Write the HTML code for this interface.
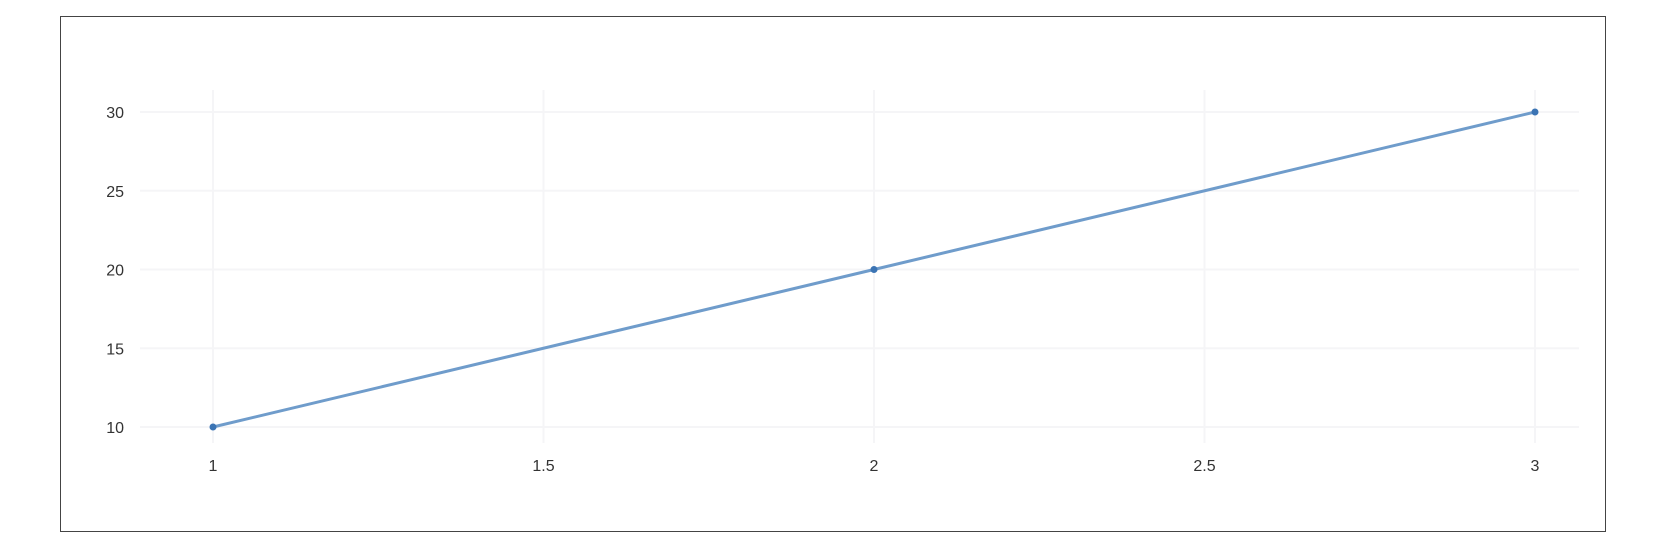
<!DOCTYPE html>
<html><head><meta charset="utf-8"><style>
html,body{margin:0;padding:0;background:#fff;width:1676px;height:550px;overflow:hidden}
#frame{position:absolute;left:60px;top:16px;width:1544px;height:514px;border:1.5px solid #444;box-sizing:content-box}
svg{position:absolute;left:0;top:0}
text{font-family:"Liberation Sans",sans-serif;font-size:16px;fill:#333}
</style></head><body>
<div id="frame"></div>
<svg id="chart" width="1676" height="550"></svg>
<script>
const xValues=[1,2,3];
const yValues=[10,20,30];
const xTicks=[1,1.5,2,2.5,3];
const yTicks=[10,15,20,25,30];
const NS='http://www.w3.org/2000/svg';
const svg=document.getElementById('chart');
function xs(v){return 213+(v-1)*(1535-213)/2;}
function ys(v){return 427-(v-10)*(427-112)/20;}
function mk(tag,attrs){const e=document.createElementNS(NS,tag);for(const k in attrs)e.setAttribute(k,attrs[k]);svg.appendChild(e);return e;}
yTicks.forEach(t=>{
 const l=mk('line',{x1:140,x2:1579,y1:ys(t),y2:ys(t),stroke:'#f5f5f7','stroke-width':2});
 
 
 const tx=mk('text',{x:124,y:ys(t)+6,'text-anchor':'end'});tx.textContent=t;
 
 
});
xTicks.forEach(t=>{
 const l=mk('line',{x1:xs(t),x2:xs(t),y1:90,y2:443,stroke:'#f5f5f7','stroke-width':2});
 
 
 const tx=mk('text',{x:xs(t),y:471,'text-anchor':'middle'});tx.textContent=t;
 
 
});
const pts=xValues.map((x,i)=>xs(x)+','+ys(yValues[i])).join(' ');
const pl=mk('polyline',{points:pts,fill:'none',stroke:'#6f9ccb','stroke-width':3});


xValues.forEach((x,i)=>{
 const c=mk('circle',{cx:xs(x),cy:ys(yValues[i]),r:3.5,fill:'#3b74b4'});
 
 
});
</script>
</body></html>
